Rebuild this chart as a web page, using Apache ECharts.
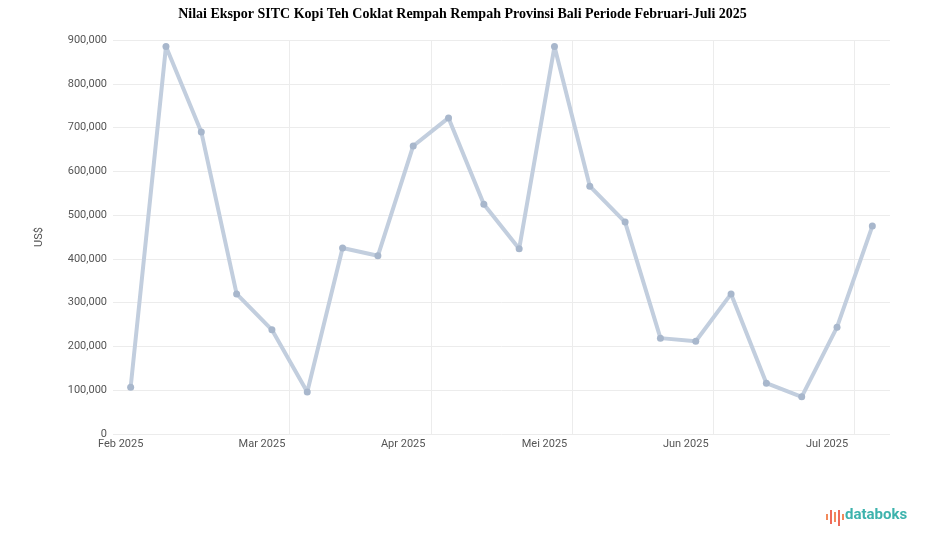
<!DOCTYPE html>
<html><head><meta charset="utf-8">
<script src="https://cdn.jsdelivr.net/npm/echarts@6/dist/echarts.min.js"></script>
<style>html,body{margin:0;padding:0;background:#fff}#c{width:925px;height:547px}</style>
</head><body><div id="c"></div>
<script>
var titleText = 'Nilai Ekspor SITC Kopi Teh Coklat Rempah Rempah Provinsi Bali Periode Februari-Juli 2025';
var yAxisName = 'US$';
var tickLabels = ['Feb 2025', 'Mar 2025', 'Apr 2025', 'Mei 2025', 'Jun 2025', 'Jul 2025'];
var categories = ['P1','P2','P3','P4','P5','P6','P7','P8','P9','P10','P11','P12','P13','P14','P15','P16','P17','P18','P19','P20','P21','P22'];
var values = [107000, 885000, 690000, 320000, 238000, 96000, 425000, 407000, 658000, 722000, 525000, 423000, 885000, 566000, 484000, 219000, 212000, 320000, 116000, 85000, 244000, 475000];

var chart = echarts.init(document.getElementById('c'));
chart.setOption({
  animation: false,
  backgroundColor: '#fff',
  title: { text: titleText, left: 'center', top: 2,
    textStyle: { fontFamily: 'Liberation Serif', fontWeight: 'bold', fontSize: 14, color: '#000' } },
  grid: { left: 113, right: 35, top: 40, bottom: 113 },
  xAxis: {
    type: 'category', data: categories, boundaryGap: true,
    axisLine: { show: false }, axisTick: { show: false },
    axisLabel: { interval: 3, margin: 5, color: '#555', fontSize: 11, fontFamily: 'Roboto',
      padding: [0, 20, 0, 0],
      formatter: function (v, i) { return tickLabels[i / 4] || ''; } },
    splitLine: { show: true, showMinLine: false, showMaxLine: false,
      interval: function (i) { return i % 4 === 1; }, lineStyle: { color: '#ececec' } }
  },
  yAxis: {
    type: 'value', min: 0, max: 900000, interval: 100000,
    name: yAxisName, nameLocation: 'middle', nameGap: 68, nameRotate: 90,
    nameTextStyle: { color: '#555', fontSize: 11, fontFamily: 'Roboto' },
    axisLine: { show: false }, axisTick: { show: false },
    axisLabel: { color: '#555', fontSize: 11, fontFamily: 'Roboto', margin: 6,
      formatter: function (v) { return v.toLocaleString('en-US'); } },
    splitLine: { lineStyle: { color: '#ececec' } }
  },
  series: [{
    type: 'line', data: values, symbol: 'circle', symbolSize: 7,
    lineStyle: { color: '#c2cede', width: 4 },
    itemStyle: { color: '#a8b7cc' }
  }],
  graphic: [
    { type: 'rect', shape: { x: 826, y: 514, width: 2, height: 6 }, style: { fill: '#f28a5b' } },
    { type: 'rect', shape: { x: 830, y: 510, width: 2, height: 14 }, style: { fill: '#ef6b5b' } },
    { type: 'rect', shape: { x: 834, y: 512, width: 2, height: 10 }, style: { fill: '#f28a5b' } },
    { type: 'rect', shape: { x: 838, y: 510, width: 2, height: 16 }, style: { fill: '#ef6b5b' } },
    { type: 'rect', shape: { x: 842, y: 514, width: 2, height: 6 }, style: { fill: '#f28a5b' } },
    { type: 'text', left: 845, top: 508, style: { text: 'databoks', fill: '#3db3ad', font: 'bold 15px Roboto' } }
  ]
});
</script></body></html>
